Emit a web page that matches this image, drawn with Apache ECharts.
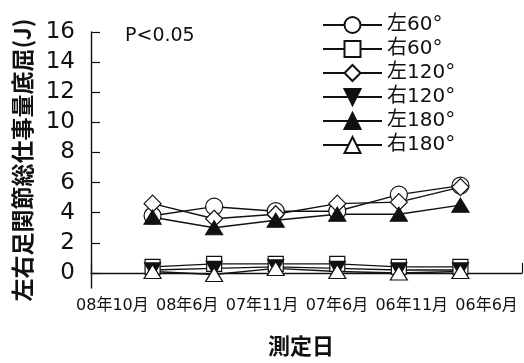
<!DOCTYPE html>
<html>
<head>
<meta charset="utf-8">
<script src="https://cdn.jsdelivr.net/npm/echarts@6/dist/echarts.min.js"></script>
<style>
  html, body { margin: 0; padding: 0; background: #fff; }
  #chart { width: 524px; height: 363px; }
</style>
</head>
<body>
<div id="chart"></div>
<script>
const categories = ["08年10月", "08年6月", "07年11月", "07年6月", "06年11月", "06年6月"];
const yTicks = [0, 2, 4, 6, 8, 10, 12, 14, 16];
const left60 = [3.8, 4.4, 4.1, 4.1, 5.2, 5.8];
const right60 = [0.4, 0.6, 0.6, 0.6, 0.4, 0.4];
const left120 = [4.6, 3.6, 3.9, 4.6, 4.7, 5.7];
const right120 = [0.2, 0.3, 0.4, 0.3, 0.2, 0.2];
const left180 = [3.7, 3.0, 3.5, 3.9, 3.9, 4.5];
const right180 = [0.1, -0.1, 0.3, 0.1, 0.0, 0.1];

const font = "'DejaVu Sans', 'Noto Sans CJK JP', sans-serif";
const ink = "#111";
const downTri = "path://M0,0 L10,0 L5,9 Z";

// x positions 1..6 on a 0..7 value axis
function pts(arr) {
  return arr.map((v, i) => [i + 1, v]);
}

function makeSeries(name, arr, symbol, size, filled) {
  return {
    name: name,
    type: "line",
    xAxisIndex: 0,
    yAxisIndex: 0,
    data: pts(arr),
    symbol: symbol,
    symbolSize: size,
    lineStyle: { color: ink, width: 1.4 },
    itemStyle: {
      color: filled ? ink : "#fff",
      borderColor: ink,
      borderWidth: 1.2,
    },
    emphasis: { disabled: true },
    animation: false,
  };
}

const chart = echarts.init(document.getElementById("chart"));
chart.setOption({
  animation: false,
  backgroundColor: "#fff",
  grid: [
    { left: 91, right: 2, top: 32, bottom: 75 },
    { left: 75, width: 450, top: 32, bottom: 75 },
  ],
  legend: {
    orient: "vertical",
    left: 322,
    top: 15,
    padding: 0,
    itemWidth: 59,
    itemHeight: 20,
    itemGap: 4,
    textStyle: { fontSize: 20, color: ink, fontFamily: font },
    data: ["左60°", "右60°", "左120°", "右120°", "左180°", "右180°"],
  },
  graphic: [
    {
      type: "text",
      left: 125,
      top: 27,
      style: { text: "P<0.05", fontSize: 19, fill: ink, fontFamily: font },
    },
  ],
  xAxis: [
    {
      type: "value",
      gridIndex: 0,
      min: 0,
      max: 7,
      interval: 1,
      name: "測定日",
      nameLocation: "middle",
      nameGap: 47,
      nameTextStyle: {
        fontSize: 22,
        fontWeight: "bold",
        color: ink,
        fontFamily: "'Noto Sans CJK JP', sans-serif",
        padding: [0, 11, 0, 0],
      },
      axisLine: { lineStyle: { color: ink, width: 1.4 } },
      axisTick: { inside: true, length: 10, lineStyle: { color: ink, width: 1.2 } },
      axisLabel: { show: false },
      splitLine: { show: false },
    },
    {
      type: "category",
      gridIndex: 1,
      data: categories,
      boundaryGap: true,
      axisLine: { show: false },
      axisTick: { show: false },
      axisLabel: { interval: 0, margin: 10, fontSize: 16, color: ink, fontFamily: font },
    },
  ],
  yAxis: [
    {
      type: "value",
      gridIndex: 0,
      min: -1,
      max: 16,
      name: "左右足関節総仕事量底屈(J)",
      nameLocation: "middle",
      nameGap: 57,
      nameTextStyle: {
        fontSize: 23,
        fontWeight: "bold",
        color: ink,
        fontFamily: "'Noto Sans CJK JP', sans-serif",
      },
      axisLine: { show: true, lineStyle: { color: ink, width: 1.4 } },
      axisTick: {
        show: true,
        inside: true,
        length: 9,
        customValues: yTicks,
        lineStyle: { color: ink, width: 1.2 },
      },
      axisLabel: {
        customValues: yTicks,
        margin: 16,
        fontSize: 23,
        color: ink,
        fontFamily: font,
        padding: [0, 0, 8, 0],
      },
      splitLine: { show: false },
    },
    {
      type: "value",
      gridIndex: 1,
      show: false,
    },
  ],
  series: [
    makeSeries("左60°", left60, "circle", 17, false),
    makeSeries("右60°", right60, "rect", 15, false),
    makeSeries("左120°", left120, "diamond", [17, 17], false),
    makeSeries("右120°", right120, downTri, [16, 14], true),
    makeSeries("左180°", left180, "triangle", [17, 14], true),
    makeSeries("右180°", right180, "triangle", [17, 14], false),
  ],
});
</script>
</body>
</html>
